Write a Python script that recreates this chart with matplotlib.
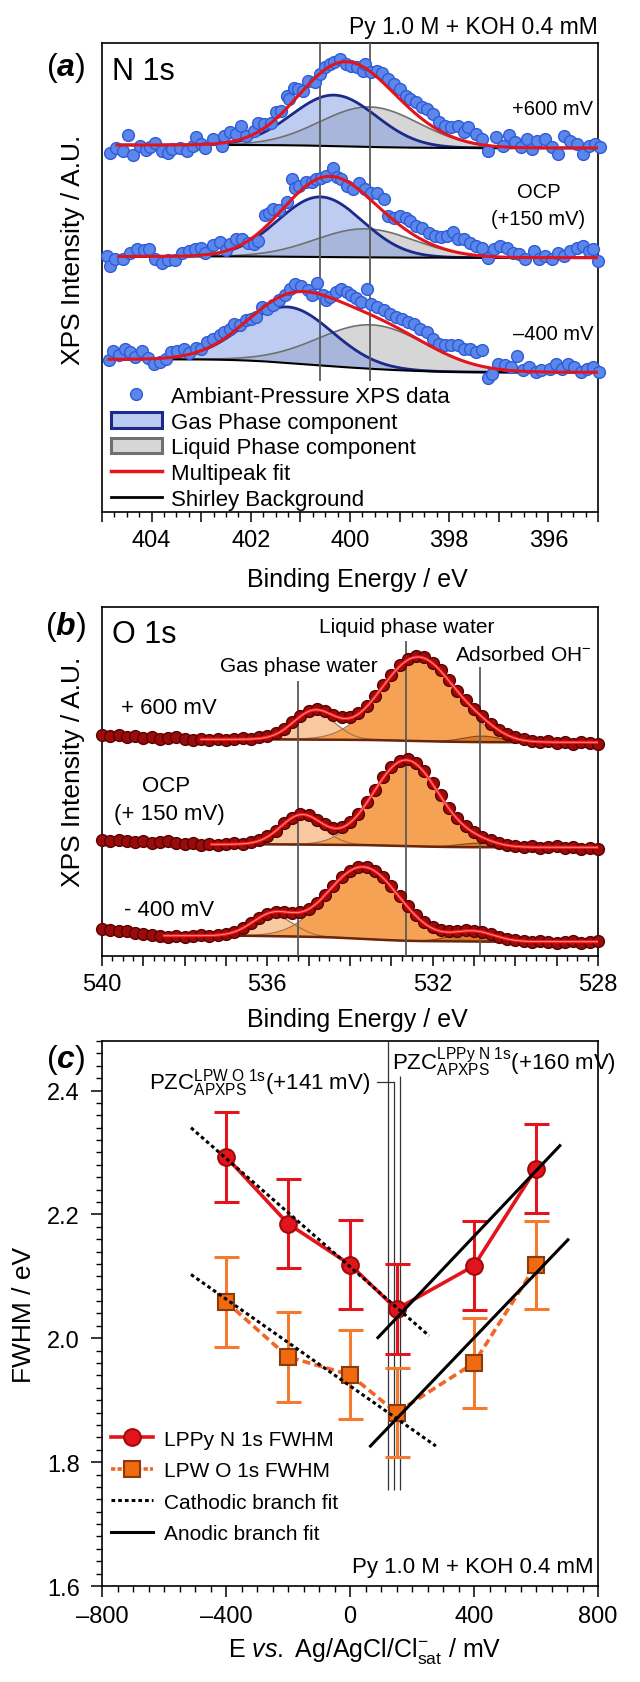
import numpy as np
import matplotlib
matplotlib.use("Agg")
import matplotlib.pyplot as plt
from matplotlib.lines import Line2D
from matplotlib.patches import Patch
from matplotlib.ticker import MultipleLocator, FuncFormatter

plt.rcParams["font.family"] = ["Liberation Sans", "DejaVu Sans"]
plt.rcParams["mathtext.fontset"] = "custom"
plt.rcParams["mathtext.rm"] = "Liberation Sans"
plt.rcParams["mathtext.it"] = "Liberation Sans:italic"
plt.rcParams["mathtext.bf"] = "Liberation Sans:bold"
plt.rcParams["mathtext.bfit"] = "Liberation Sans:italic:bold"

# ---------------- panel (a) N 1s ----------------
# (binding energy / eV, intensity above spectrum offset)
N1S_600 = [
    (404.84, -5), (404.72, 0), (404.57, -3), (404.47, 13), (404.37, -7), (404.24, 2), (404.12, -2),
    (404.04, 1), (403.93, 5), (403.79, -3), (403.66, -5), (403.58, -1), (403.42, 0), (403.29, -3),
    (403.17, 2), (403.10, 11), (403.00, 4), (402.92, 0), (402.76, 9), (402.59, 2), (402.55, 12),
    (402.42, 16), (402.30, 14), (402.20, 22), (402.09, 12), (401.94, 17), (401.86, 25), (401.74, 24),
    (401.60, 25), (401.50, 36), (401.39, 37), (401.27, 52), (401.22, 49), (401.13, 60), (401.04, 59),
    (400.94, 57), (400.85, 67), (400.70, 66), (400.60, 74), (400.51, 81), (400.40, 84), (400.32, 86),
    (400.21, 89), (400.09, 84), (399.98, 82), (399.86, 81), (399.74, 77), (399.70, 84), (399.57, 76),
    (399.45, 77), (399.36, 75), (399.24, 69), (399.12, 64), (398.99, 59), (398.87, 52), (398.79, 49),
    (398.66, 46), (398.54, 41), (398.45, 39), (398.33, 34), (398.21, 26), (398.08, 22), (397.96, 21),
    (397.83, 22), (397.71, 16), (397.63, 21), (397.46, 14), (397.34, 9), (397.21, -3), (397.05, 11),
    (396.92, 2), (396.80, 13), (396.68, 6), (396.55, 1), (396.43, 9), (396.34, -1), (396.22, 7),
    (396.06, 9), (395.93, 1), (395.81, -6), (395.68, 12), (395.56, 7), (395.43, 4), (395.31, -6),
    (395.19, 2), (395.06, 4), (394.96, 1),
]
N1S_OCP = [
    (404.89, 2), (404.84, -8), (404.74, -1), (404.57, -1), (404.43, 5), (404.29, 9), (404.16, 8),
    (404.06, 9), (403.93, -1), (403.79, -5), (403.66, -2), (403.52, -2), (403.38, 5), (403.25, 7),
    (403.13, 9), (403.00, 10), (402.92, 5), (402.76, 13), (402.63, 16), (402.51, 8), (402.42, 14),
    (402.30, 19), (402.18, 19), (402.05, 15), (401.93, 14), (401.85, 17), (401.72, 43), (401.64, 45),
    (401.56, 49), (401.43, 48), (401.27, 56), (401.17, 79), (401.10, 70), (401.02, 72), (400.89, 76),
    (400.77, 76), (400.69, 79), (400.59, 80), (400.48, 82), (400.34, 90), (400.27, 81), (400.19, 79),
    (400.07, 72), (399.94, 69), (399.82, 75), (399.70, 69), (399.57, 65), (399.45, 65), (399.32, 59),
    (399.24, 42), (399.12, 40), (398.99, 42), (398.87, 40), (398.79, 37), (398.66, 32), (398.54, 30),
    (398.41, 25), (398.29, 22), (398.17, 21), (398.04, 22), (397.92, 26), (397.83, 19), (397.71, 19),
    (397.59, 15), (397.46, 12), (397.34, 10), (397.21, 0), (397.09, 9), (396.97, 12), (396.84, 10),
    (396.72, 5), (396.59, 4), (396.47, -1), (396.30, 7), (396.18, -1), (396.06, 2), (395.93, -1),
    (395.81, 5), (395.68, 2), (395.56, 7), (395.43, 10), (395.31, 12), (395.19, 7), (395.10, 9),
    (394.99, -3),
]
N1S_M400 = [
    (404.86, 12), (404.78, 21), (404.66, 17), (404.53, 23), (404.43, 20), (404.33, 15), (404.20, 21),
    (404.08, 14), (403.95, 8), (403.83, 10), (403.71, 13), (403.60, 20), (403.48, 21), (403.35, 23),
    (403.24, 19), (403.10, 24), (403.00, 23), (402.88, 30), (402.76, 33), (402.63, 37), (402.55, 40),
    (402.42, 43), (402.34, 48), (402.22, 47), (402.09, 52), (401.99, 53), (401.89, 55), (401.78, 65),
    (401.68, 63), (401.56, 67), (401.43, 72), (401.31, 77), (401.20, 83), (401.10, 88), (400.98, 86),
    (400.85, 82), (400.77, 77), (400.67, 89), (400.55, 77), (400.48, 72), (400.40, 75), (400.29, 80),
    (400.19, 83), (400.07, 80), (399.98, 77), (399.88, 74), (399.78, 70), (399.65, 83), (399.57, 68),
    (399.45, 65), (399.32, 62), (399.20, 58), (399.07, 55), (398.95, 53), (398.83, 50), (398.70, 48),
    (398.58, 43), (398.45, 40), (398.33, 33), (398.21, 28), (398.08, 27), (397.96, 27), (397.83, 27),
    (397.71, 23), (397.59, 23), (397.46, 20), (397.34, 22), (397.21, -6), (397.13, -2), (397.01, 8),
    (396.88, 7), (396.76, 5), (396.64, 16), (396.51, 2), (396.39, 5), (396.26, 0), (396.14, 2),
    (395.97, 3), (395.85, 8), (395.72, 3), (395.60, 8), (395.48, 5), (395.35, 0), (395.23, 3),
    (395.10, 5), (394.98, 0),
]
# fit components (centre / eV, height, sigma / eV) for +600 mV, OCP, -400 mV
N1S_GAS = [(400.32, 51, 0.85), (400.60, 60, 0.85), (401.25, 56, 0.90)]
N1S_LIQ = [(399.60, 40, 1.00), (399.70, 28.5, 1.00), (399.55, 44, 1.10)]
N1S_OFFSET = [364, 254.3, 139.7]
N1S_STEP = [3, 1.3, 13]
N1S_FIT_START = [404.70, 404.66, 404.86]
N1S_REF_LINES = [400.6, 399.6]

# ---------------- panel (b) O 1s ----------------
O1S_BE = [540.0, 539.8, 539.6, 539.4, 539.2, 539.0, 538.8, 538.6, 538.4, 538.2, 538.0, 537.8, 537.6,
          537.4, 537.2, 537.0, 536.8, 536.6, 536.4, 536.2, 536.0, 535.8, 535.6, 535.4, 535.2, 535.0,
          534.8, 534.6, 534.4, 534.2, 534.0, 533.8, 533.6, 533.4, 533.2, 533.0, 532.8, 532.6, 532.4,
          532.2, 532.0, 531.8, 531.6, 531.4, 531.2, 531.0, 530.8, 530.6, 530.4, 530.2, 530.0, 529.8,
          529.6, 529.4, 529.2, 529.0, 528.8, 528.6, 528.4, 528.2, 528.0]
O1S_600 = [7, 6, 7, 5, 6, 4, 5, 3, 4, 5, 3, 2, 3, 2, 3, 2, 3, 4, 3, 5, 6,
           9, 13, 20, 26, 31, 33, 31, 27, 25, 25, 29, 36, 46, 57, 67, 77, 83, 86, 85, 79,
           72, 62, 51, 42, 33, 26, 18, 12, 8, 5, 3, 1, 0, 1, -1, 0, -2, 0, -1, -2]
O1S_OCP = [7, 6, 7, 6, 5, 6, 4, 5, 6, 4, 3, 4, 2, 3, 2, 3, 4, 3, 5, 7, 11,
           16, 24, 29, 33, 32, 27, 23, 19, 20, 25, 33, 45, 57, 70, 80, 86, 88, 84, 76, 64,
           52, 39, 29, 21, 15, 10, 7, 4, 2, 1, 0, 1, -1, 0, 1, -1, 0, -2, -1, -2]
O1S_M400 = [13, 12, 11, 11, 9, 8, 7, 6, 5, 6, 5, 6, 7, 6, 7, 8, 10, 14, 19, 24, 28,
            30, 30, 29, 30, 33, 39, 47, 56, 65, 71, 75, 75, 71, 65, 56, 46, 36, 27, 20, 15,
            12, 11, 11, 12, 11, 10, 8, 5, 3, 2, 1, 0, 1, 0, -1, 0, 1, -1, 0, 1]
O1S_GAS = [(534.87, 28, 0.50), (535.17, 29.5, 0.50), (535.87, 21, 0.50)]
O1S_LIQ = [(532.35, 84, 0.90), (532.64, 86, 0.80), (533.68, 72, 0.875)]
O1S_OH = [(530.80, 6, 0.45), (530.90, 4, 0.45), (531.00, 10, 0.50)]
O1S_OFFSET = [213.7, 108.7, 14.3]
O1S_STEP = [3, 3, 6]
O1S_FIT_START = [537.6, 537.35, 538.5]
O1S_REF_LINES = [535.26, 532.64, 530.85]
O1S_REF_TOPS = [275, 315, 289]

# ---------------- panel (c) FWHM vs potential ----------------
E_MV = [-400, -200, 0, 150, 400, 600]
N1S_FWHM = [2.293, 2.185, 2.119, 2.047, 2.117, 2.274]
N1S_ERR = [0.073, 0.072, 0.072, 0.073, 0.072, 0.072]
O1S_FWHM = [2.059, 1.970, 1.941, 1.880, 1.960, 2.118]
O1S_ERR = [0.073, 0.073, 0.072, 0.072, 0.072, 0.071]
CATH_N = ([-513, 255], [2.340, 2.004])
CATH_O = ([-513, 277], [2.103, 1.826])
ANOD_N = ([90, 677], [2.001, 2.311])
ANOD_O = ([66, 703], [1.826, 2.159])
PZC_X = [122, 141, 160]
PZC_TOP = [2.48, 2.4145, 2.424]
PZC_BOTTOM = 1.755

RED = "#e3141b"
ORANGE = "#f26522"


def gauss(x, c, h, s):
    return h * np.exp(-(x - c) ** 2 / (2 * s ** 2))


def shirley(total, step):
    # grid is ascending in binding energy: background grows with the area at lower BE
    cum = np.cumsum(total)
    return step * cum / cum[-1]


def style_xps_axis(ax, major, label_every):
    ax.xaxis.set_major_locator(MultipleLocator(major))
    ax.xaxis.set_minor_locator(MultipleLocator(0.25))
    ax.xaxis.set_major_formatter(FuncFormatter(
        lambda v, p: f"{v:.0f}" if round(v) % label_every == 0 else ""))
    ax.tick_params(axis="x", which="major", length=7, width=1.1, pad=5.5, labelsize=17)
    ax.tick_params(axis="x", which="minor", length=3.5, width=1.0)
    ax.tick_params(axis="y", left=False, labelleft=False)
    for sp in ax.spines.values():
        sp.set_linewidth(1.2)


fig = plt.figure(figsize=(6.4, 16.83), dpi=100)

# ================= (a) =================
ax = fig.add_axes([0.159375, 0.69519, 0.775, 0.27867])
ax.set_xlim(405, 395)
ax.set_ylim(0, 469)
spectra = [N1S_600, N1S_OCP, N1S_M400]
for i, pts in enumerate(spectra):
    be = np.linspace(395.0, N1S_FIT_START[i], 500)
    gas = gauss(be, *N1S_GAS[i])
    liq = gauss(be, *N1S_LIQ[i])
    bg = N1S_OFFSET[i] + shirley(gas + liq, N1S_STEP[i])
    ax.fill_between(be, bg, bg + liq, color="#d6d6d6", lw=0, zorder=1)
    ax.fill_between(be, bg, bg + gas, color="#6f8fe0", alpha=0.45, lw=0, zorder=2)
    ax.plot(be, bg + liq, color="#707070", lw=1.2, zorder=3)
    ax.plot(be, bg + gas, color="#1c2a8c", lw=2.0, zorder=3)
    ax.plot(be, bg, color="black", lw=1.5, zorder=4)
    x = [p[0] for p in pts]
    y = [N1S_OFFSET[i] + p[1] for p in pts]
    ax.plot(x, y, ls="none", marker="o", ms=8.5, mfc="#5b87ec", mec="#2f5bd6", mew=1.0,
            zorder=5, clip_on=False)
    ax.plot(be, bg + gas + liq, color=RED, lw=2.2, zorder=6)
ax.vlines(N1S_REF_LINES, 131, 469, color="#5a5a5a", lw=1.3, zorder=4.5)
style_xps_axis(ax, 1, 2)
ax.set_xlabel("Binding Energy / eV", fontsize=18)
ax.xaxis.set_label_coords(0.514, -0.117)
ax.set_ylabel("XPS Intensity / A.U.", fontsize=19)
ax.yaxis.set_label_coords(-0.034, 0.56)
ax.text(404.8, 441, "N 1s", fontsize=22, ha="left", va="center")
ax.text(395.1, 403, "+600 mV", fontsize=14.5, ha="right", va="center")
ax.text(396.2, 320, "OCP", fontsize=14.5, ha="center", va="center")
ax.text(396.2, 293, "(+150 mV)", fontsize=14.5, ha="center", va="center")
ax.text(395.1, 178, "\u2013400 mV", fontsize=14.5, ha="right", va="center")
handles = [
    Line2D([], [], ls="none", marker="o", ms=8.5, mfc="#5b87ec", mec="#2f5bd6"),
    Patch(fc="#bccbf2", ec="#1c2a8c", lw=2.2),
    Patch(fc="#d6d6d6", ec="#707070", lw=2.2),
    Line2D([], [], color=RED, lw=2.5),
    Line2D([], [], color="black", lw=2.0),
]
labels = ["Ambiant-Pressure XPS data", "Gas Phase component", "Liquid Phase component",
          "Multipeak fit", "Shirley Background"]
ax.legend(handles, labels, loc="upper left", bbox_to_anchor=(0.018, 0.269), frameon=False,
          fontsize=16, handlelength=2.3, handletextpad=0.4, labelspacing=0.21,
          borderpad=0, borderaxespad=0)
fig.text(0.934, 0.9834, "Py 1.0 M + KOH 0.4 mM", fontsize=16.5, ha="right", va="center")
fig.text(0.102, 0.9596, r"($\mathbfit{a}$)", fontsize=23, ha="center", va="center")

# ================= (b) =================
ax = fig.add_axes([0.159375, 0.43137, 0.775, 0.20737])
ax.set_xlim(540, 528)
ax.set_ylim(0, 349)
o_spectra = [O1S_600, O1S_OCP, O1S_M400]
for i, vals in enumerate(o_spectra):
    be = np.linspace(528.0, O1S_FIT_START[i], 500)
    gas = gauss(be, *O1S_GAS[i])
    liq = gauss(be, *O1S_LIQ[i])
    oh = gauss(be, *O1S_OH[i])
    bg = O1S_OFFSET[i] + shirley(gas + liq + oh, O1S_STEP[i])
    ax.fill_between(be, bg, bg + gas, color="#f8c9a0", lw=0, zorder=1)
    ax.fill_between(be, bg, bg + liq, color="#f5a255", lw=0, zorder=1.5)
    ax.fill_between(be, bg, bg + oh, color="#de7a22", lw=0, zorder=1.8)
    ax.plot(be, bg + gas, color="#a8744c", lw=0.9, zorder=2)
    ax.plot(be, bg + liq, color="#a8744c", lw=0.9, zorder=2)
    ax.plot(be, bg + oh, color="#8a4a1a", lw=0.9, zorder=2)
    ax.plot(be, bg, color="#6b2508", lw=1.8, zorder=2.5)
    y = [O1S_OFFSET[i] + v for v in vals]
    ax.plot(O1S_BE, y, ls="none", marker="o", ms=8.5, mfc="#9a0c0c", mec="#5a0000", mew=1.0,
            zorder=4, clip_on=False)
    fit = bg + gas + liq + oh
    ax.plot(be, fit, color="#ff1a1a", lw=2.3, zorder=5)
    ax.plot(be, fit, color="#ff9a9a", lw=0.6, zorder=5.1)
for xl, top in zip(O1S_REF_LINES, O1S_REF_TOPS):
    ax.vlines(xl, 0, top, color="#5a5a5a", lw=1.3, zorder=3)
style_xps_axis(ax, 1, 4)
ax.set_xlabel("Binding Energy / eV", fontsize=18)
ax.xaxis.set_label_coords(0.514, -0.146)
ax.set_ylabel("XPS Intensity / A.U.", fontsize=19)
ax.yaxis.set_label_coords(-0.034, 0.53)
ax.text(539.76, 322, "O 1s", fontsize=22, ha="left", va="center")
ax.text(532.64, 330, "Liquid phase water", fontsize=15, ha="center", va="center")
ax.text(535.23, 291, "Gas phase water", fontsize=15, ha="center", va="center")
ax.text(529.8, 302, r"Adsorbed OH$^{-}$", fontsize=15, ha="center", va="center")
ax.text(538.38, 249, "+ 600 mV", fontsize=16, ha="center", va="center")
ax.text(538.45, 171, "OCP", fontsize=16, ha="center", va="center")
ax.text(538.38, 143, "(+ 150 mV)", fontsize=16, ha="center", va="center")
ax.text(538.38, 47, "- 400 mV", fontsize=16, ha="center", va="center")
fig.text(0.102, 0.6275, r"($\mathbfit{b}$)", fontsize=23, ha="center", va="center")

# ================= (c) =================
ax = fig.add_axes([0.159375, 0.05704, 0.775, 0.32383])
ax.set_xlim(-800, 800)
ax.set_ylim(1.6, 2.48)
ax.errorbar(E_MV, O1S_FWHM, yerr=O1S_ERR, fmt="none", ecolor="#f37a2e", elinewidth=2.2,
            capsize=9, capthick=2.2, zorder=2)
ax.errorbar(E_MV, N1S_FWHM, yerr=N1S_ERR, fmt="none", ecolor=RED, elinewidth=2.2,
            capsize=9, capthick=2.2, zorder=2.1)
ax.plot(E_MV, O1S_FWHM, color=ORANGE, lw=2.6, ls=(0, (2.2, 1.2)), marker="s", ms=12,
        mfc="#f26a10", mec="#8a3b0e", mew=1.5, zorder=3)
ax.plot(E_MV, N1S_FWHM, color=RED, lw=2.6, marker="o", ms=12, mfc=RED, mec="#a00a0a",
        mew=1.5, zorder=3.1)
for xs, ys in (CATH_N, CATH_O):
    ax.plot(xs, ys, color="black", lw=2.2, ls=(0, (1.2, 1.0)), zorder=4)
for xs, ys in (ANOD_N, ANOD_O):
    ax.plot(xs, ys, color="black", lw=2.2, zorder=4)
for xl, top in zip(PZC_X, PZC_TOP):
    ax.vlines(xl, PZC_BOTTOM, top, color="#333333", lw=0.9, zorder=1)
ax.plot([87, PZC_X[1]], [PZC_TOP[1], PZC_TOP[1]], color="#333333", lw=0.9)
ax.text(67, PZC_TOP[1], r"PZC$^{\mathrm{LPW\ O\ 1s}}_{\mathrm{APXPS}}$(+141 mV)", fontsize=16,
        ha="right", va="center")
ax.text(135, 2.447, r"PZC$^{\mathrm{LPPy\ N\ 1s}}_{\mathrm{APXPS}}$(+160 mV)", fontsize=16,
        ha="left", va="center")
ax.text(0.992, 0.035, "Py 1.0 M + KOH 0.4 mM", transform=ax.transAxes, fontsize=16,
        ha="right", va="center")
ax.xaxis.set_major_locator(MultipleLocator(400))
ax.xaxis.set_minor_locator(MultipleLocator(50))
ax.xaxis.set_major_formatter(FuncFormatter(lambda v, p: f"{v:.0f}".replace("-", "\u2013")))
ax.yaxis.set_major_locator(MultipleLocator(0.2))
ax.yaxis.set_minor_locator(MultipleLocator(0.02))
ax.yaxis.set_major_formatter(FuncFormatter(lambda v, p: f"{v:.1f}"))
ax.tick_params(which="major", length=8, width=1.1, labelsize=17)
ax.tick_params(which="minor", length=4.5, width=1.0)
ax.tick_params(axis="x", which="major", pad=6)
ax.tick_params(axis="y", which="major", pad=8)
for sp in ax.spines.values():
    sp.set_linewidth(1.2)
ax.set_xlabel(r"E $\mathit{vs.}$ Ag/AgCl/Cl$^{-}_{\mathrm{sat}}$ / mV", fontsize=18)
ax.xaxis.set_label_coords(0.53, -0.09)
ax.set_ylabel("FWHM / eV", fontsize=19)
ax.yaxis.set_label_coords(-0.133, 0.5)
handles = [
    Line2D([], [], color=RED, lw=2.6, marker="o", ms=12, mfc=RED, mec="#a00a0a", mew=1.5),
    Line2D([], [], color=ORANGE, lw=2.6, ls=(0, (1.2, 0.6)), marker="s", ms=12, mfc="#f26a10",
           mec="#8a3b0e", mew=1.5),
    Line2D([], [], color="black", lw=2.2, ls=(0, (1.2, 1.0))),
    Line2D([], [], color="black", lw=2.2),
]
labels = ["LPPy N 1s FWHM", "LPW O 1s FWHM", "Cathodic branch fit", "Anodic branch fit"]
ax.legend(handles, labels, loc="upper left", bbox_to_anchor=(0.018, 0.287), frameon=False,
          fontsize=15, handlelength=2.0, handletextpad=0.55, labelspacing=0.6,
          borderpad=0, borderaxespad=0)
fig.text(0.102, 0.3702, r"($\mathbfit{c}$)", fontsize=23, ha="center", va="center")

fig.savefig("out.png", dpi=100)
